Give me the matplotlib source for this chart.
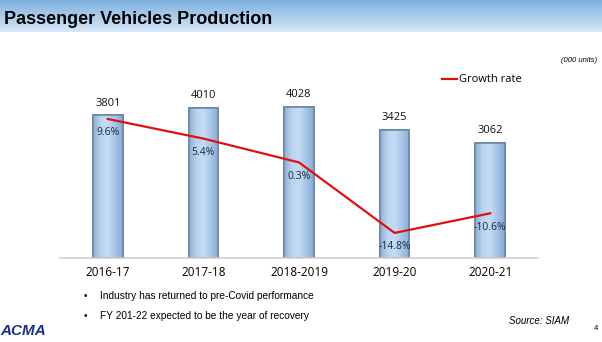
import numpy as np
import matplotlib
matplotlib.use("Agg")
import matplotlib.pyplot as plt

years = ["2016-17", "2017-18", "2018-2019", "2019-20", "2020-21"]
production = [3801, 4010, 4028, 3425, 3062]
growth = [9.6, 5.4, 0.3, -14.8, -10.6]
growth_labels = ["9.6%", "5.4%", "0.3%", "-14.8%", "-10.6%"]
bullets = ["Industry has returned to pre-Covid performance",
           "FY 201-22 expected to be the year of recovery"]

plt.rcParams['font.family'] = ['Open Sans', 'DejaVu Sans']

fig = plt.figure(figsize=(6.02, 3.42), dpi=100)
fig.patch.set_facecolor("white")

# header band
hax = fig.add_axes([0, 1 - 32/342, 1, 32/342])
grad = np.linspace(0, 1, 50).reshape(-1, 1)
cmap = matplotlib.colors.LinearSegmentedColormap.from_list("hdr", ["#7eb0df", "#d6e7f7"])
hax.imshow(grad, aspect="auto", cmap=cmap, extent=[0, 1, 0, 1])
hax.set_axis_off()
fig.text(0.006, 1 - 20/342, "Passenger Vehicles Production", fontsize=13,
         fontweight="bold", family="Liberation Sans", va="center", ha="left")

ax1 = fig.add_axes([60/602, 1 - 258/342, 478/602, 198/342])
ax2 = ax1.twinx()

x = np.arange(len(years))
bars = ax1.bar(x, production, width=0.31, color="#a9c9ec", edgecolor="#6d87a6", linewidth=1.2, zorder=2)
# cylinder-like shading inside each bar
bcmap = matplotlib.colors.LinearSegmentedColormap.from_list(
    "bar", ["#8eaed3", "#b9d4f1", "#c4dbf3", "#a6c5e8", "#8aa9cf"])
hgrad = np.linspace(0, 1, 64).reshape(1, -1)
for b in bars:
    bx, by = b.get_x(), b.get_y()
    im = ax1.imshow(hgrad, aspect="auto", cmap=bcmap, zorder=2.1,
                    extent=[bx, bx + b.get_width(), by, by + b.get_height()])
    im.set_clip_path(b)
    ax1.bar(b.get_x() + b.get_width()/2, b.get_height(), width=b.get_width(), fill=False,
            edgecolor="#6d87a6", linewidth=1.2, zorder=2.2)
for xi, v in zip(x, production):
    ax1.annotate(str(v), (xi, v), xytext=(0, 5), textcoords="offset points",
                 ha="center", va="bottom", fontsize=8, color="#111111")
ax1.set_xlim(-0.5, 4.5)
ax1.set_ylim(0, 5280)
ax1.set_xticks(x)
ax1.set_xticklabels(years, fontsize=8.5)
ax1.tick_params(axis="x", length=0, pad=6)
ax1.set_yticks([])
for s in ["top", "left", "right"]:
    ax1.spines[s].set_visible(False)
ax1.spines["bottom"].set_color("#d0d0d0")
ax1.spines["bottom"].set_linewidth(1.2)

ax2.plot(x, growth, color="#e01010", linewidth=1.6, label="Growth rate", zorder=3)
for xi, v, lab in zip(x, growth, growth_labels):
    ax2.annotate(lab, (xi, v), xytext=(0, -10), textcoords="offset points",
                 ha="center", va="center", fontsize=7.5, color="#1c2b40")
ax2.set_ylim(-20.17, 22.23)
ax2.set_yticks([])
for s in ax2.spines.values():
    s.set_visible(False)
ax2.legend(loc="upper left", bbox_to_anchor=(438/602, 1 - 70/342), bbox_transform=fig.transFigure,
           frameon=False, fontsize=8, handlelength=1.3, handletextpad=0.2, borderaxespad=0)

fig.text(597/602, 1 - 61/342, "(000 units)", fontsize=5.5, style="italic",
         family="Liberation Sans", ha="right", va="center")

for i, b in enumerate(bullets):
    yy = 1 - (296 + 20*i)/342
    fig.text(84/602, yy, "•", fontsize=7, family="Liberation Sans", ha="left", va="center")
    fig.text(100/602, yy, b, fontsize=7.3, family="Liberation Sans", ha="left", va="center")

fig.text(569/602, 1 - 321/342, "Source: SIAM", fontsize=7, style="italic",
         family="Liberation Sans", ha="right", va="center")
fig.text(598/602, 1 - 328/342, "4", fontsize=5.5, family="Liberation Sans", ha="right", va="center")
fig.text(0.0, 1 - 331/342, "ACMA", fontsize=11, fontweight="bold", style="italic",
         family="Liberation Sans", color="#1c2f8a", ha="left", va="center")

fig.savefig("out.png", dpi=100)
